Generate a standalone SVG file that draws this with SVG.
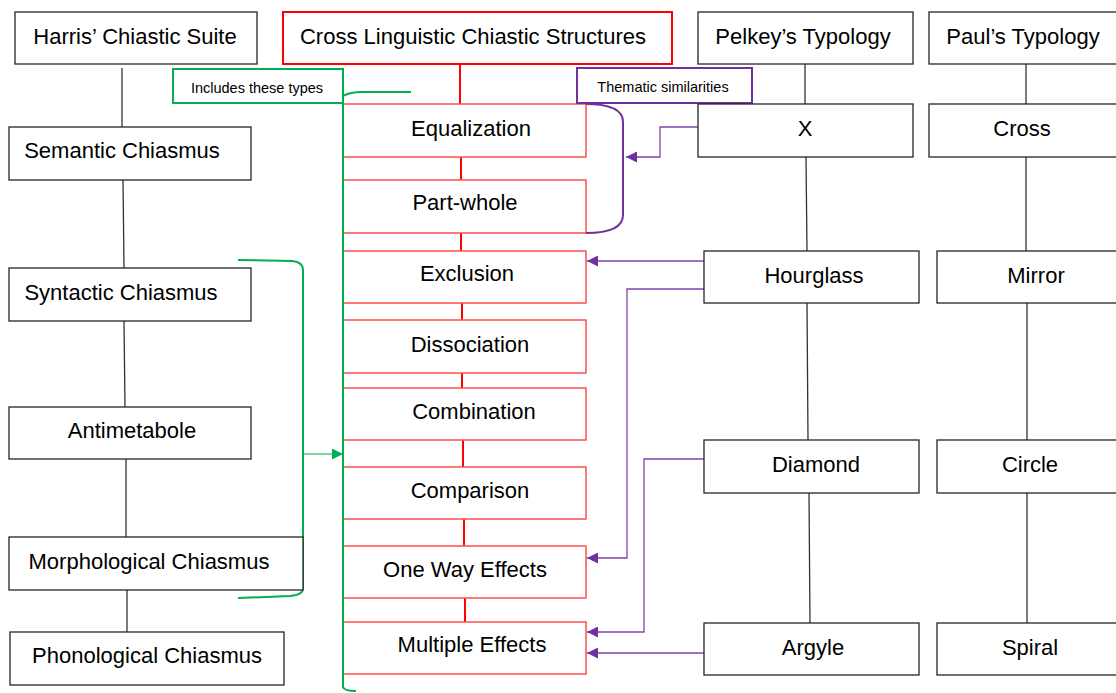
<svg xmlns="http://www.w3.org/2000/svg" width="1116" height="693" viewBox="0 0 1116 693">
  <style>
    .box { fill: #ffffff; stroke: #262626; stroke-width: 1.3; }
    .main { fill: #ffffff; stroke: #ff0000; stroke-width: 2; }
    .type { fill: #ffffff; stroke: #ff4d4d; stroke-width: 1.5; }
    .lbl { font-family: "Liberation Sans", Arial, sans-serif; font-size: 22px; fill: #000; text-anchor: middle; }
    .note { font-family: "Liberation Sans", Arial, sans-serif; font-size: 14.5px; fill: #000; text-anchor: middle; }
    .tree { fill: none; stroke: #333333; stroke-width: 1.3; }
    .red { fill: none; stroke: #ff0000; stroke-width: 2; }
    .grn { fill: none; stroke: #00b050; stroke-width: 2; }
    .grn-thin { fill: none; stroke: #00b050; stroke-width: 1.2; }
    .pur { fill: none; stroke: #7030a0; stroke-width: 2; }
    .pur-thin { fill: none; stroke: #7e44ad; stroke-width: 1.3; }
  </style>
  <defs>
    <marker id="arrowPurple" viewBox="0 0 10 10" refX="10" refY="5" markerUnits="userSpaceOnUse" markerWidth="12" markerHeight="11" orient="auto">
      <path d="M0,0 L10,5 L0,10 Z" fill="#7030a0"/>
    </marker>
    <marker id="arrowGreen" viewBox="0 0 10 10" refX="10" refY="5" markerUnits="userSpaceOnUse" markerWidth="12" markerHeight="11" orient="auto">
      <path d="M0,0 L10,5 L0,10 Z" fill="#00b050"/>
    </marker>
  </defs>

  <rect width="1116" height="693" fill="#ffffff"/>

  <!-- connectors -->
  <g id="connectors">
    <!-- Harris column -->
    <line class="tree" x1="122" y1="68" x2="122" y2="127"/>
    <line class="tree" x1="123" y1="180" x2="124" y2="268"/>
    <line class="tree" x1="124" y1="321" x2="125" y2="407"/>
    <line class="tree" x1="126" y1="459" x2="126" y2="537"/>
    <line class="tree" x1="127" y1="590" x2="127" y2="632"/>
    <!-- Cross linguistic column -->
    <line class="red" x1="460" y1="64" x2="460" y2="104"/>
    <line class="red" x1="461" y1="157" x2="461" y2="180"/>
    <line class="red" x1="461" y1="233" x2="461" y2="251"/>
    <line class="red" x1="462" y1="303" x2="462" y2="320"/>
    <line class="red" x1="462" y1="373" x2="462" y2="388"/>
    <line class="red" x1="463" y1="440" x2="463" y2="467"/>
    <line class="red" x1="464" y1="519" x2="464" y2="546"/>
    <line class="red" x1="465" y1="598" x2="465" y2="622"/>
    <!-- Pelkey column -->
    <line class="tree" x1="805" y1="64" x2="805" y2="104"/>
    <line class="tree" x1="806" y1="157" x2="807" y2="251"/>
    <line class="tree" x1="807" y1="303" x2="808" y2="440"/>
    <line class="tree" x1="809" y1="493" x2="810" y2="623"/>
    <!-- Paul column -->
    <line class="tree" x1="1026" y1="64" x2="1026" y2="104"/>
    <line class="tree" x1="1026" y1="157" x2="1026" y2="251"/>
    <line class="tree" x1="1027" y1="303" x2="1027" y2="440"/>
    <line class="tree" x1="1027" y1="493" x2="1027" y2="623"/>

    <!-- thematic links -->
    <polyline class="pur-thin" points="698,127 660,127 660,157 626,157" marker-end="url(#arrowPurple)"/>
    <line class="pur-thin" x1="704" y1="261" x2="587" y2="261" marker-end="url(#arrowPurple)"/>
    <polyline class="pur-thin" points="704,289 627,289 627,558 587,558" marker-end="url(#arrowPurple)"/>
    <polyline class="pur-thin" points="704,459 644,459 644,632 587,632" marker-end="url(#arrowPurple)"/>
    <line class="pur-thin" x1="704" y1="653" x2="587" y2="653" marker-end="url(#arrowPurple)"/>

    <!-- bracket grouping syntactic through morphological -->
    <path class="grn" d="M238,260 L292,261 Q303,262 303,270 L303,588 Q303,595 290,596 L238,598"/>
    <line class="grn-thin" x1="303" y1="454" x2="343" y2="454" marker-end="url(#arrowGreen)"/>
  </g>

  <!-- Harris column nodes -->
  <g id="harris">
    <rect class="box" x="15" y="12" width="242" height="52"/>
    <text class="lbl" x="135" y="44">Harris’ Chiastic Suite</text>
  </g>
  <g id="semantic">
    <rect class="box" x="9" y="127" width="242" height="53"/>
    <text class="lbl" x="122" y="158">Semantic Chiasmus</text>
  </g>
  <g id="syntactic">
    <rect class="box" x="9" y="268" width="242" height="53"/>
    <text class="lbl" x="121" y="300">Syntactic Chiasmus</text>
  </g>
  <g id="antimetabole">
    <rect class="box" x="9" y="407" width="242" height="52"/>
    <text class="lbl" x="132" y="438">Antimetabole</text>
  </g>
  <g id="morphological">
    <rect class="box" x="9" y="537" width="294" height="53"/>
    <text class="lbl" x="149" y="569">Morphological Chiasmus</text>
  </g>
  <g id="phonological">
    <rect class="box" x="10" y="632" width="274" height="53"/>
    <text class="lbl" x="147" y="663">Phonological Chiasmus</text>
  </g>

  <!-- Cross linguistic column nodes -->
  <g id="cross-linguistic">
    <rect class="main" x="283" y="12" width="389" height="52"/>
    <text class="lbl" x="473" y="44">Cross Linguistic Chiastic Structures</text>
  </g>
  <g id="equalization">
    <rect class="type" x="343" y="104" width="243" height="53"/>
    <text class="lbl" x="471" y="136">Equalization</text>
  </g>
  <g id="part-whole">
    <rect class="type" x="343" y="180" width="243" height="53"/>
    <text class="lbl" x="465" y="210">Part-whole</text>
  </g>
  <g id="exclusion">
    <rect class="type" x="343" y="251" width="243" height="52"/>
    <text class="lbl" x="467" y="281">Exclusion</text>
  </g>
  <g id="dissociation">
    <rect class="type" x="343" y="320" width="243" height="53"/>
    <text class="lbl" x="470" y="352">Dissociation</text>
  </g>
  <g id="combination">
    <rect class="type" x="343" y="388" width="243" height="52"/>
    <text class="lbl" x="474" y="419">Combination</text>
  </g>
  <g id="comparison">
    <rect class="type" x="343" y="467" width="243" height="52"/>
    <text class="lbl" x="470" y="498">Comparison</text>
  </g>
  <g id="one-way-effects">
    <rect class="type" x="343" y="546" width="243" height="52"/>
    <text class="lbl" x="465" y="577">One Way Effects</text>
  </g>
  <g id="multiple-effects">
    <rect class="type" x="343" y="622" width="243" height="52"/>
    <text class="lbl" x="472" y="652">Multiple Effects</text>
  </g>

  <!-- "Includes these types" callout -->
  <g id="includes-note">
    <rect x="173" y="69" width="170" height="34" fill="#ffffff" stroke="#00b050" stroke-width="2"/>
    <text class="note" x="257" y="93">Includes these types</text>
    <path class="grn" d="M343,96 Q350,92 362,92 L411,92"/>
    <path class="grn" d="M343,103 L343,687 Q344,691 356,691"/>
  </g>

  <!-- "Thematic similarities" callout -->
  <g id="thematic-note">
    <rect x="577" y="68" width="175" height="35" fill="#ffffff" stroke="#7030a0" stroke-width="2"/>
    <text class="note" x="663" y="92">Thematic similarities</text>
    <path class="pur" d="M586,104 Q623,104 623,122 L623,215 Q623,233 586,233"/>
  </g>

  <!-- Pelkey column nodes -->
  <g id="pelkey">
    <rect class="box" x="698" y="12" width="215" height="52"/>
    <text class="lbl" x="803" y="44">Pelkey’s Typology</text>
  </g>
  <g id="x">
    <rect class="box" x="698" y="104" width="215" height="53"/>
    <text class="lbl" x="805" y="136">X</text>
  </g>
  <g id="hourglass">
    <rect class="box" x="704" y="251" width="215" height="52"/>
    <text class="lbl" x="814" y="283">Hourglass</text>
  </g>
  <g id="diamond">
    <rect class="box" x="704" y="440" width="215" height="53"/>
    <text class="lbl" x="816" y="472">Diamond</text>
  </g>
  <g id="argyle">
    <rect class="box" x="704" y="623" width="215" height="52"/>
    <text class="lbl" x="813" y="655">Argyle</text>
  </g>

  <!-- Paul column nodes -->
  <g id="paul">
    <rect class="box" x="929" y="12" width="200" height="52"/>
    <text class="lbl" x="1023" y="44">Paul’s Typology</text>
  </g>
  <g id="cross">
    <rect class="box" x="929" y="104" width="200" height="53"/>
    <text class="lbl" x="1022" y="136">Cross</text>
  </g>
  <g id="mirror">
    <rect class="box" x="937" y="251" width="200" height="52"/>
    <text class="lbl" x="1036" y="283">Mirror</text>
  </g>
  <g id="circle">
    <rect class="box" x="937" y="440" width="200" height="53"/>
    <text class="lbl" x="1030" y="472">Circle</text>
  </g>
  <g id="spiral">
    <rect class="box" x="937" y="623" width="200" height="52"/>
    <text class="lbl" x="1030" y="655">Spiral</text>
  </g>
</svg>
